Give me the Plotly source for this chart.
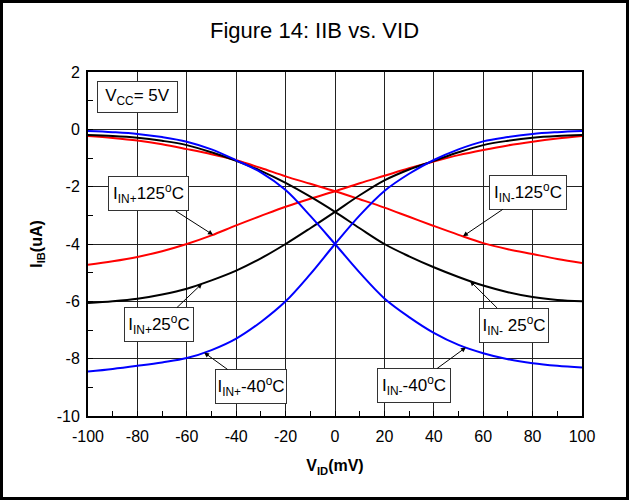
import numpy as np
import plotly.graph_objects as go

# ---- data ----
vid = [-100, -90, -80, -70, -60, -50, -40, -30, -20, -10, 0, 10, 20, 30, 40, 50, 60, 70, 80, 90, 100]

in_plus_m40 = [-8.45, -8.36, -8.25, -8.13, -7.98, -7.70, -7.30, -6.72, -6.00, -5.05, -4.00,
               -3.00, -2.15, -1.55, -1.07, -0.70, -0.42, -0.27, -0.16, -0.10, -0.06]
in_minus_m40 = [-0.06, -0.10, -0.16, -0.27, -0.43, -0.70, -1.08, -1.50, -2.12, -3.02, -4.00,
                -5.00, -5.90, -6.55, -7.10, -7.52, -7.81, -8.02, -8.16, -8.25, -8.31]
in_plus_25 = [-6.06, -6.00, -5.91, -5.76, -5.56, -5.27, -4.93, -4.50, -4.00, -3.45, -2.88,
              -2.30, -1.78, -1.40, -1.10, -0.80, -0.55, -0.40, -0.29, -0.23, -0.20]
in_minus_25 = [-0.20, -0.23, -0.29, -0.40, -0.55, -0.80, -1.10, -1.45, -1.87, -2.35, -2.88,
               -3.45, -4.00, -4.43, -4.81, -5.15, -5.45, -5.68, -5.85, -5.95, -6.00]
in_plus_125 = [-4.72, -4.60, -4.45, -4.25, -4.00, -3.70, -3.35, -3.02, -2.70, -2.42, -2.16,
               -1.88, -1.62, -1.36, -1.12, -0.90, -0.72, -0.56, -0.43, -0.32, -0.23]
in_minus_125 = [-0.23, -0.30, -0.39, -0.52, -0.69, -0.87, -1.08, -1.35, -1.64, -1.90, -2.16,
                -2.44, -2.73, -3.05, -3.37, -3.68, -3.97, -4.18, -4.35, -4.52, -4.66]

x_ticks = [-100, -80, -60, -40, -20, 0, 20, 40, 60, 80, 100]
y_ticks = [2, 0, -2, -4, -6, -8, -10]

# label text, series, x position of arrow target, box offset (px), text width
labels = [
    ("I<sub>IN+</sub>125<sup>o</sup>C", in_plus_125, -49.4, -64, -41, 75),
    ("I<sub>IN-</sub>125<sup>o</sup>C", in_minus_125, 51.8, 65, -44, 72),
    ("I<sub>IN+</sub>25<sup>o</sup>C", in_plus_25, -53.8, -43, 41, 64),
    ("I<sub>IN-</sub> 25<sup>o</sup>C", in_minus_25, 54.7, 44, 44, 64),
    ("I<sub>IN+</sub>-40<sup>o</sup>C", in_plus_m40, -53.0, 47, 34, 66),
    ("I<sub>IN-</sub>-40<sup>o</sup>C", in_minus_m40, 53.0, -52, 38, 68),
]

FONT = "Liberation Sans, Arial, sans-serif"
W, H = 629, 500
ML, MR, MT, MB = 88, 47, 72, 84
PW, PH = W - ML - MR, H - MT - MB

fig = go.Figure()
series = [
    (in_plus_125, "red"), (in_minus_125, "red"),
    (in_plus_25, "black"), (in_minus_25, "black"),
    (in_plus_m40, "blue"), (in_minus_m40, "blue"),
]
for ys, col in series:
    fig.add_trace(go.Scatter(x=vid, y=ys, mode="lines",
                             line=dict(color=col, width=2, shape="spline", smoothing=1.0),
                             showlegend=False, hoverinfo="skip"))

for text, ys, xa, ax, ay, w in labels:
    ya = float(np.interp(xa, vid, ys))
    fig.add_annotation(x=xa, y=ya, xref="x", yref="y", text=text,
                       showarrow=True, arrowhead=2, arrowsize=1, arrowwidth=1,
                       arrowcolor="black", ax=ax, ay=ay,
                       font=dict(family=FONT, size=17, color="black"),
                       bgcolor="white", bordercolor="#333", borderwidth=1,
                       borderpad=2, width=w, height=29)

fig.add_annotation(x=-80, y=1.12, xref="x", yref="y", text="V<sub>CC</sub>= 5V",
                   showarrow=False, font=dict(family=FONT, size=17, color="black"),
                   bgcolor="white", bordercolor="#333", borderwidth=1,
                   borderpad=3, width=73, height=24)

# outer frame of the figure
fig.add_shape(type="rect", xref="paper", yref="paper",
              x0=(-ML + 1.5) / PW, x1=1 + (MR - 1.5) / PW,
              y0=(-MB + 1.5) / PH, y1=1 + (MT - 1.5) / PH,
              line=dict(color="black", width=3), layer="above")

axis_common = dict(showline=True, linecolor="black", linewidth=2, mirror=True,
                   showgrid=True, gridcolor="#222", gridwidth=1,
                   ticks="inside", ticklen=5, tickcolor="black", tickwidth=1,
                   zeroline=False,
                   tickfont=dict(family=FONT, size=16, color="black"))

fig.update_xaxes(range=[-100, 100], tickvals=x_ticks,
                 ticktext=[str(v) for v in x_ticks], ticklabelstandoff=5,
                 minor=dict(dtick=10, ticks="inside", ticklen=5, tickcolor="black", showgrid=False),
                 title=dict(text="<b>V<sub>ID</sub>(mV)</b>", standoff=16,
                            font=dict(family=FONT, size=16, color="black")),
                 **axis_common)
fig.update_yaxes(range=[-10, 2], tickvals=y_ticks,
                 ticktext=[str(v) for v in y_ticks], ticklabelstandoff=3,
                 minor=dict(dtick=1, ticks="inside", ticklen=5, tickcolor="black", showgrid=False),
                 title=dict(text="<b>I<sub>IB</sub>(uA)</b>", standoff=10,
                            font=dict(family=FONT, size=16, color="black")),
                 **axis_common)

fig.update_layout(
    width=W, height=H,
    margin=dict(l=ML, r=MR, t=MT, b=MB, autoexpand=False),
    paper_bgcolor="white", plot_bgcolor="white",
    title=dict(text="Figure 14: IIB vs. VID", x=0.5, xref="container", xanchor="center",
               y=1 - 30 / H, yanchor="middle",
               font=dict(family=FONT, size=22, color="black")),
)

fig.write_html("out.html")
